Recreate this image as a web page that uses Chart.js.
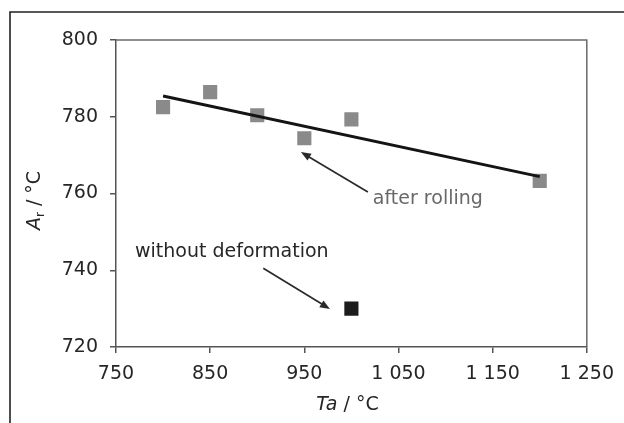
<!DOCTYPE html>
<html>
<head>
<meta charset="utf-8">
<script src="https://cdn.jsdelivr.net/npm/chart.js@4/dist/chart.umd.min.js"></script>
<style>
  html, body { margin: 0; padding: 0; background: #fff; }
  #wrap { width: 624px; height: 423px; position: relative; }
</style>
</head>
<body>
<div id="wrap"><canvas id="myChart"></canvas></div>
<script>
// data
var taRolling = [800, 850, 900, 950, 1000, 1200];
var arRolling = [782.5, 786.4, 780.4, 774.4, 779.3, 763.3];
var taNoDef = [1000];
var arNoDef = [730];
var trendTa = [800, 1200];
var trendAr = [785.4, 764.4];
var xTicks = [750, 850, 950, 1050, 1150, 1250];
var yTicks = [720, 740, 760, 780, 800];

// annotation anchors (data units)
var noteRolling = { text: 'after rolling', x: 1022.8, y: 757.3, from: [1017.5, 760.4], to: [946.4, 770.8], color: '#686868' };
var noteNoDef = { text: 'without deformation', x: 770.2, y: 743.5, from: [906.4, 740.5], to: [977.2, 729.9], color: '#262626' };

var FONT = '"DejaVu Sans", sans-serif';
var TEXT = '#262626';

function toPoints(xs, ys) {
    return xs.map(function (x, i) { return { x: x, y: ys[i] }; });
}

function fmtThousands(v) {
    if (v < 1000) return String(v);
    return Math.floor(v / 1000) + ' ' + String(v % 1000).padStart(3, '0');
}

function arrow(ctx, x1, y1, x2, y2, color) {
    var ang = Math.atan2(y2 - y1, x2 - x1);
    var hl = 10, hw = 4;
    ctx.save();
    ctx.strokeStyle = color;
    ctx.fillStyle = color;
    ctx.lineWidth = 1.7;
    ctx.beginPath();
    ctx.moveTo(x1, y1);
    ctx.lineTo(x2 - Math.cos(ang) * hl * 0.8, y2 - Math.sin(ang) * hl * 0.8);
    ctx.stroke();
    ctx.translate(x2, y2);
    ctx.rotate(ang);
    ctx.beginPath();
    ctx.moveTo(0, 0);
    ctx.lineTo(-hl, -hw);
    ctx.lineTo(-hl, hw);
    ctx.closePath();
    ctx.fill();
    ctx.restore();
}

var decorations = {
    id: 'decorations',
    beforeDraw: function (chart) {
        var ctx = chart.ctx;
        ctx.save();
        ctx.fillStyle = '#fff';
        ctx.fillRect(0, 0, chart.width, chart.height);
        // outer frame of the figure
        ctx.strokeStyle = '#222';
        ctx.lineWidth = 1.6;
        ctx.beginPath();
        ctx.moveTo(10, chart.height);
        ctx.lineTo(10, 12);
        ctx.lineTo(chart.width, 12);
        ctx.stroke();
        ctx.restore();
    },
    afterDraw: function (chart) {
        var ctx = chart.ctx;
        var a = chart.chartArea;
        var xs = chart.scales.x, ys = chart.scales.y;
        ctx.save();
        // top and right border of the plot box
        ctx.strokeStyle = '#6a6a6a';
        ctx.lineWidth = 1.5;
        ctx.beginPath();
        ctx.moveTo(a.left, a.top);
        ctx.lineTo(a.right, a.top);
        ctx.lineTo(a.right, a.bottom);
        ctx.stroke();

        // annotations
        [noteRolling, noteNoDef].forEach(function (n) {
            ctx.font = '19px ' + FONT;
            ctx.fillStyle = n.color;
            ctx.textAlign = 'left';
            ctx.textBaseline = 'alphabetic';
            ctx.fillText(n.text, xs.getPixelForValue(n.x), ys.getPixelForValue(n.y));
            arrow(ctx, xs.getPixelForValue(n.from[0]), ys.getPixelForValue(n.from[1]),
                xs.getPixelForValue(n.to[0]), ys.getPixelForValue(n.to[1]), '#2a2a2a');
        });

        // y title: A_r / °C (rotated)
        ctx.fillStyle = TEXT;
        ctx.textBaseline = 'alphabetic';
        ctx.translate(40, (a.top + a.bottom) / 2 + 7);
        ctx.rotate(-Math.PI / 2);
        var parts = [
            { t: 'A', f: 'italic 19px ' + FONT, dy: 0 },
            { t: 'r', f: '12px ' + FONT, dy: 4 },
            { t: ' / °C', f: '19px ' + FONT, dy: 0 }
        ];
        var total = 0;
        parts.forEach(function (p) { ctx.font = p.f; total += ctx.measureText(p.t).width; });
        var cx = -total / 2;
        parts.forEach(function (p) {
            ctx.font = p.f;
            ctx.fillText(p.t, cx, p.dy);
            cx += ctx.measureText(p.t).width;
        });
        ctx.restore();

        // x title: Ta / °C
        ctx.save();
        ctx.fillStyle = TEXT;
        ctx.textBaseline = 'alphabetic';
        var xparts = [
            { t: 'Ta', f: 'italic 19px ' + FONT },
            { t: ' / °C', f: '19px ' + FONT }
        ];
        var w = 0;
        xparts.forEach(function (p) { ctx.font = p.f; w += ctx.measureText(p.t).width; });
        var px = (a.left + a.right) / 2 - 4 - w / 2;
        xparts.forEach(function (p) {
            ctx.font = p.f;
            ctx.fillText(p.t, px, 410);
            px += ctx.measureText(p.t).width;
        });
        ctx.restore();
    }
};

var ctx = document.getElementById('myChart');

var myChart = new Chart(ctx, {
    type: 'scatter',
    data: {
        datasets: [{
            type: 'line',
            label: 'trend',
            data: toPoints(trendTa, trendAr),
            borderColor: '#141414',
            borderWidth: 3,
            pointRadius: 0,
            fill: false
        }, {
            label: 'after rolling',
            data: toPoints(taRolling, arRolling),
            pointStyle: 'rect',
            pointRadius: 10,
            pointHoverRadius: 10,
            backgroundColor: '#8a8a8a',
            borderWidth: 0
        }, {
            label: 'without deformation',
            data: toPoints(taNoDef, arNoDef),
            pointStyle: 'rect',
            pointRadius: 10,
            pointHoverRadius: 10,
            backgroundColor: '#1c1c1c',
            borderWidth: 0
        }]
    },
    options: {
        responsive: true,
        maintainAspectRatio: false,
        animation: false,
        events: [],
        layout: { padding: { left: 0, right: 37, top: 40, bottom: 0 } },
        plugins: {
            legend: { display: false },
            tooltip: { enabled: false }
        },
        scales: {
            x: {
                type: 'linear',
                min: 750,
                max: 1250,
                afterBuildTicks: function (scale) {
                    scale.ticks = xTicks.map(function (v) { return { value: v }; });
                },
                afterFit: function (scale) { scale.height = 76; },
                grid: { drawOnChartArea: false, tickLength: 6, color: '#555', lineWidth: 1.5 },
                border: { display: true, color: '#555', width: 1.5 },
                ticks: {
                    padding: 10,
                    color: TEXT,
                    font: { family: FONT, size: 19 },
                    maxRotation: 0,
                    callback: function (v) { return fmtThousands(v); }
                }
            },
            y: {
                type: 'linear',
                min: 720,
                max: 800,
                afterBuildTicks: function (scale) {
                    scale.ticks = yTicks.map(function (v) { return { value: v }; });
                },
                afterFit: function (scale) { scale.width = 116; },
                grid: { drawOnChartArea: false, tickLength: 6, color: '#555', lineWidth: 1.5 },
                border: { display: true, color: '#555', width: 1.5 },
                ticks: {
                    padding: 12,
                    color: TEXT,
                    font: { family: FONT, size: 19 }
                }
            }
        }
    },
    plugins: [decorations]
});
</script>
</body>
</html>
